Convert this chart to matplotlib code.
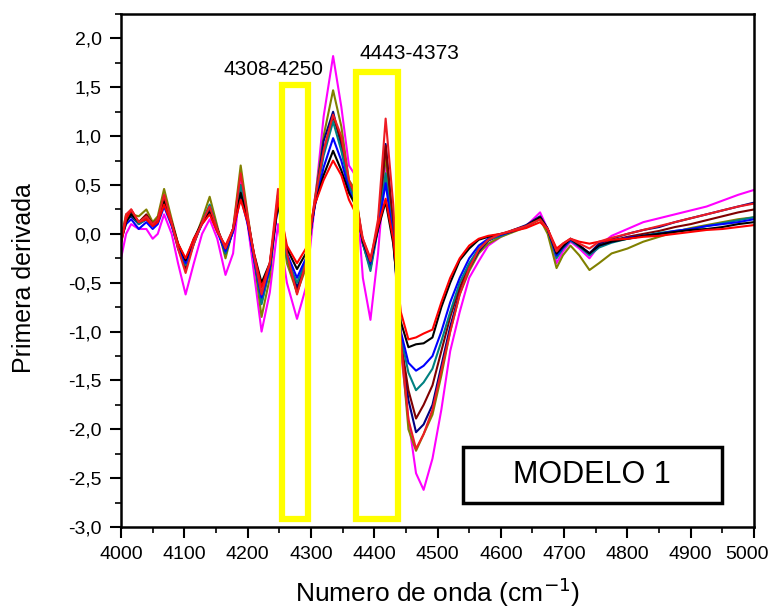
import numpy as np
import matplotlib
matplotlib.use("Agg")
import matplotlib.pyplot as plt
from matplotlib.ticker import MultipleLocator, FuncFormatter
from matplotlib.patches import Rectangle
from matplotlib.transforms import ScaledTranslation

plt.rcParams['font.family'] = ['Liberation Sans', 'DejaVu Sans']

# SECTION Data

wavenumber = [4000, 4008, 4016, 4028, 4040, 4050, 4058, 4068, 4080, 4090,
              4102, 4115, 4128, 4140, 4152, 4165, 4177, 4189, 4200, 4210,
              4222, 4235, 4248, 4262, 4278, 4292, 4306, 4320, 4335, 4348,
              4360, 4370, 4382, 4394, 4406, 4418, 4430, 4442, 4454, 4466,
              4478, 4492, 4506, 4520, 4535, 4550, 4565, 4580, 4600, 4620,
              4640, 4662, 4674, 4688, 4698, 4710, 4724, 4740, 4755, 4775,
              4800, 4825, 4850, 4875, 4900, 4925, 4950, 4975, 5000]

magenta = [-0.25, 0.0, 0.1, 0.05, 0.05, -0.05, 0.0, 0.2, 0.0, -0.3,
           -0.62, -0.3, 0.0, 0.15, -0.05, -0.42, -0.2, 0.55, 0.1, -0.4,
           -1.0, -0.6, 0.1, -0.5, -0.87, -0.55, 0.3, 1.2, 1.82, 1.3,
           0.7, 0.6, -0.45, -0.88, -0.2, 0.75, 0.0, -1.2, -1.9, -2.45,
           -2.62, -2.3, -1.8, -1.2, -0.8, -0.45, -0.28, -0.12, -0.03, 0.03,
           0.08, 0.22, 0.05, -0.3, -0.18, -0.08, -0.15, -0.25, -0.12, -0.02,
           0.05, 0.12, 0.16, 0.2, 0.24, 0.28, 0.34, 0.4, 0.45]

olive = [-0.05, 0.2, 0.2, 0.18, 0.25, 0.12, 0.18, 0.46, 0.15, -0.1,
         -0.3, -0.08, 0.15, 0.38, 0.08, -0.25, 0.05, 0.7, 0.2, -0.25,
         -0.85, -0.45, 0.4, -0.3, -0.6, -0.35, 0.35, 1.0, 1.47, 1.1,
         0.55, 0.45, -0.1, -0.35, 0.1, 0.8, 0.0, -1.1, -2.0, -2.22,
         -2.05, -1.85, -1.45, -1.0, -0.62, -0.38, -0.2, -0.1, -0.03, 0.02,
         0.07, 0.15, 0.0, -0.35, -0.22, -0.12, -0.22, -0.37, -0.3, -0.2,
         -0.15, -0.08, -0.03, 0.02, 0.06, 0.09, 0.12, 0.15, 0.17]

navy = [-0.03, 0.15, 0.18, 0.1, 0.15, 0.08, 0.12, 0.35, 0.1, -0.15,
        -0.35, -0.1, 0.12, 0.28, 0.05, -0.2, 0.03, 0.45, 0.12, -0.25,
        -0.7, -0.35, 0.35, -0.22, -0.55, -0.3, 0.3, 0.95, 1.25, 0.9,
        0.5, 0.35, -0.1, -0.35, 0.08, 0.92, 0.1, -1.1, -1.7, -2.03,
        -1.95, -1.75, -1.35, -0.95, -0.6, -0.35, -0.18, -0.07, -0.01, 0.04,
        0.09, 0.18, 0.05, -0.22, -0.13, -0.05, -0.12, -0.2, -0.1, -0.05,
        0.0, 0.04, 0.07, 0.12, 0.16, 0.2, 0.24, 0.28, 0.32]

maroon = [-0.05, 0.15, 0.22, 0.12, 0.2, 0.1, 0.14, 0.38, 0.1, -0.12,
          -0.35, -0.08, 0.12, 0.25, 0.05, -0.18, 0.05, 0.5, 0.15, -0.22,
          -0.62, -0.35, 0.4, -0.22, -0.6, -0.3, 0.3, 0.85, 1.2, 0.95,
          0.5, 0.4, -0.08, -0.3, 0.1, 0.9, 0.05, -1.1, -1.6, -1.89,
          -1.75, -1.55, -1.2, -0.85, -0.55, -0.32, -0.16, -0.06, -0.01, 0.04,
          0.08, 0.17, 0.05, -0.22, -0.14, -0.06, -0.13, -0.2, -0.12, -0.07,
          -0.03, 0.0, 0.03, 0.07, 0.1, 0.14, 0.18, 0.22, 0.25]

teal = [-0.05, 0.15, 0.2, 0.1, 0.15, 0.08, 0.12, 0.32, 0.1, -0.12,
        -0.32, -0.1, 0.12, 0.3, 0.05, -0.2, 0.05, 0.5, 0.15, -0.25,
        -0.72, -0.35, 0.35, -0.25, -0.5, -0.28, 0.3, 0.8, 1.15, 0.85,
        0.5, 0.35, -0.1, -0.38, 0.05, 0.62, -0.05, -1.05, -1.42, -1.6,
        -1.52, -1.38, -1.1, -0.8, -0.5, -0.3, -0.15, -0.06, -0.02, 0.03,
        0.08, 0.17, 0.05, -0.25, -0.15, -0.07, -0.13, -0.22, -0.14, -0.09,
        -0.05, -0.02, 0.01, 0.03, 0.05, 0.08, 0.11, 0.14, 0.17]

blue = [-0.05, 0.1, 0.15, 0.05, 0.12, 0.05, 0.1, 0.28, 0.08, -0.12,
        -0.3, -0.08, 0.1, 0.22, 0.02, -0.18, 0.02, 0.38, 0.1, -0.25,
        -0.65, -0.35, 0.3, -0.2, -0.45, -0.25, 0.28, 0.68, 0.98, 0.75,
        0.45, 0.3, -0.08, -0.3, 0.05, 0.52, -0.05, -1.0, -1.32, -1.4,
        -1.35, -1.25, -1.0, -0.7, -0.45, -0.25, -0.12, -0.05, -0.01, 0.03,
        0.08, 0.16, 0.05, -0.22, -0.14, -0.06, -0.12, -0.2, -0.12, -0.08,
        -0.04, -0.02, 0.0, 0.03, 0.05, 0.08, 0.1, 0.12, 0.15]

black = [-0.08, 0.12, 0.2, 0.12, 0.18, 0.1, 0.15, 0.33, 0.12, -0.1,
         -0.27, -0.05, 0.12, 0.22, 0.05, -0.15, 0.05, 0.42, 0.15, -0.2,
         -0.5, -0.3, 0.3, -0.15, -0.36, -0.2, 0.3, 0.6, 0.85, 0.65,
         0.42, 0.3, -0.08, -0.28, 0.05, 0.33, -0.1, -0.9, -1.16, -1.13,
         -1.12, -1.06, -0.75, -0.5, -0.27, -0.15, -0.06, -0.03, 0.0, 0.03,
         0.08, 0.17, 0.05, -0.2, -0.13, -0.05, -0.12, -0.2, -0.12, -0.08,
         -0.05, -0.02, 0.0, 0.02, 0.04, 0.05, 0.07, 0.1, 0.12]

red_flat = [-0.1, 0.15, 0.25, 0.12, 0.15, 0.08, 0.12, 0.3, 0.1, -0.1,
            -0.25, -0.05, 0.1, 0.2, 0.02, -0.12, 0.05, 0.35, 0.12, -0.2,
            -0.55, -0.3, 0.35, -0.12, -0.3, -0.15, 0.3, 0.55, 0.75, 0.6,
            0.35, 0.22, -0.05, -0.25, 0.08, 0.36, -0.05, -0.8, -1.08, -1.06,
            -1.02, -0.98, -0.7, -0.45, -0.25, -0.12, -0.05, -0.02, 0.0, 0.03,
            0.06, 0.12, 0.05, -0.15, -0.1, -0.05, -0.08, -0.1, -0.08, -0.06,
            -0.05, -0.03, -0.02, 0.0, 0.02, 0.04, 0.05, 0.07, 0.09]

red_strong = [-0.08, 0.2, 0.25, 0.12, 0.18, 0.1, 0.15, 0.4, 0.12, -0.15,
              -0.4, -0.1, 0.12, 0.28, 0.05, -0.15, 0.05, 0.62, 0.18, -0.22,
              -0.62, -0.3, 0.46, -0.2, -0.62, -0.3, 0.35, 0.85, 1.22, 1.0,
              0.55, 0.4, -0.05, -0.28, 0.15, 1.18, 0.3, -1.1, -1.9, -2.2,
              -2.05, -1.8, -1.4, -1.0, -0.62, -0.35, -0.16, -0.06, 0.0, 0.04,
              0.08, 0.15, 0.05, -0.18, -0.1, -0.05, -0.1, -0.15, -0.08, -0.04,
              0.0, 0.04, 0.08, 0.12, 0.16, 0.2, 0.24, 0.28, 0.31]

series = [(magenta, "#ff00ff"), (olive, "#808000"), (navy, "#000080"),
          (maroon, "#800000"), (teal, "#008080"), (blue, "#0000ff"),
          (black, "#000000"), (red_flat, "#ff0000"), (red_strong, "#ee1c24")]

# regions marked with yellow boxes: x0, x1, top of box, label, label position
regions = [(4254, 4295, 1.52, "4308-4250", (4241, 1.68)),
           (4371, 4437, 1.66, "4443-4373", (4456, 1.845))]

# SECTION Plot

fig = plt.figure(figsize=(7.71, 6.11), dpi=100)
ax = fig.add_axes([0.157, 0.1375, 0.821, 0.8395])

for vals, col in series:
    ax.plot(wavenumber, vals, color=col, linewidth=1.5)

for x0, x1, top, label, (lx, ly) in regions:
    ax.add_patch(Rectangle((x0, -2.92), x1 - x0, top + 2.92, fill=False,
                           edgecolor="#ffff00", linewidth=4.5, zorder=5))
    ax.text(lx, ly, label, ha="center", va="center", fontsize=15)

ax.add_patch(Rectangle((0.54, 0.047), 0.409, 0.109, transform=ax.transAxes,
                       fill=False, edgecolor="black", linewidth=2.5, zorder=6))
ax.text(0.7445, 0.1015, "MODELO 1", transform=ax.transAxes, ha="center",
        va="center", fontsize=22)

ax.set_xlim(4000, 5000)
ax.set_ylim(-3.0, 2.25)
ax.xaxis.set_major_locator(MultipleLocator(100))
ax.xaxis.set_minor_locator(MultipleLocator(50))
ax.yaxis.set_major_locator(MultipleLocator(0.5))
ax.yaxis.set_minor_locator(MultipleLocator(0.25))
ax.yaxis.set_major_formatter(FuncFormatter(lambda v, p: ("%.1f" % v).replace(".", ",")))

ax.tick_params(which="major", direction="out", length=8, width=1.5, pad=6,
               labelsize=14)
ax.tick_params(which="minor", direction="out", length=4, width=1.2)
for sp in ax.spines.values():
    sp.set_linewidth(1.8)

ax.set_xlabel("Numero de onda (cm$^{-1}$)", fontsize=19)
ax.set_ylabel("Primera derivada", fontsize=18)
ax.xaxis.set_label_coords(0.5, -0.095)
ax.yaxis.set_label_coords(-0.135, 0.485)

# nudge the last x tick label so "5000" stays inside the figure
fig.canvas.draw()
last = [t for t in ax.xaxis.get_major_ticks() if abs(t.get_loc() - 5000) < 1e-6]
for t in last:
    t.label1.set_transform(t.label1.get_transform()
                           + ScaledTranslation(-5 / 72, 0, fig.dpi_scale_trans))

plt.savefig("out.png", dpi=100)
plt.close()
